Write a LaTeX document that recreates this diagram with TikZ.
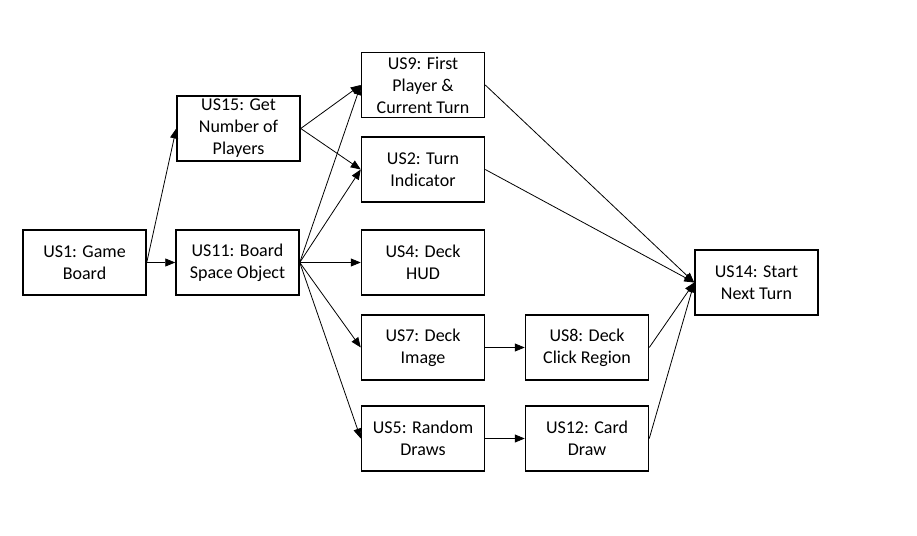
\documentclass[tikz,border=0pt]{standalone}
\usepackage{fontspec}
\setmainfont{Carlito}
\usetikzlibrary{arrows.meta}
\def\bw{123pt}
\def\bh{65pt}
\tikzset{
    story/.style = {
        draw, rectangle, minimum width=\bw, minimum height=\bh, line width=1.5pt,
        align=center, inner xsep=2pt, inner ysep=0pt,
        font=\fontsize{18}{22}\selectfont
    },
    dep/.style = {
        line width=0.8pt, -{Triangle[width=8pt,length=10pt]}
    },
}
\begin{document}
\begin{tikzpicture}[x=1pt, y=-1pt]
        \useasboundingbox (0,0) rectangle (917,535);
        % Place the stories
        \node[story] (us1)  at (84.5, 262.5) {US1: Game\\Board};
        \node[story] (us15) at (238.5, 128.5) {US15: Get\\Number of\\Players};
        \node[story] (us11) at (237.5, 262.5) {US11: Board\\Space Object};
        \node[story] (us9)  at (423, 85) {US9: First\\Player \&\\Current Turn};
        \node[story] (us2)  at (423, 169.5) {US2: Turn\\Indicator};
        \node[story] (us4)  at (423, 262.5) {US4: Deck\\HUD};
        \node[story] (us7)  at (423, 347.5) {US7: Deck\\Image};
        \node[story] (us5)  at (423, 438.5) {US5: Random\\Draws};
        \node[story] (us8)  at (587, 347.5) {US8: Deck\\Click Region};
        \node[story] (us12) at (587, 438.5) {US12: Card\\Draw};
        \node[story] (us14) at (756.5, 282.5) {US14: Start\\Next Turn};

        % Draw dependencies
        \draw[dep] (us1.east) -- (us15.west);
        \draw[dep] (us1.east) -- (us11.west);
        \foreach \x in {us9, us2} {
            \draw[dep] (us15.east) -- (\x.west);
        }
        \foreach \x in {us9, us2, us4, us7, us5} {
            \draw[dep] (us11.east) -- (\x.west);
        }
        \draw[dep] (us7.east) -- (us8.west);
        \draw[dep] (us5.east) -- (us12.west);
        \foreach \x in {us9, us2, us8, us12} {
            \draw[dep] (\x.east) -- (us14.west);
        }
    \end{tikzpicture}
\end{document}
